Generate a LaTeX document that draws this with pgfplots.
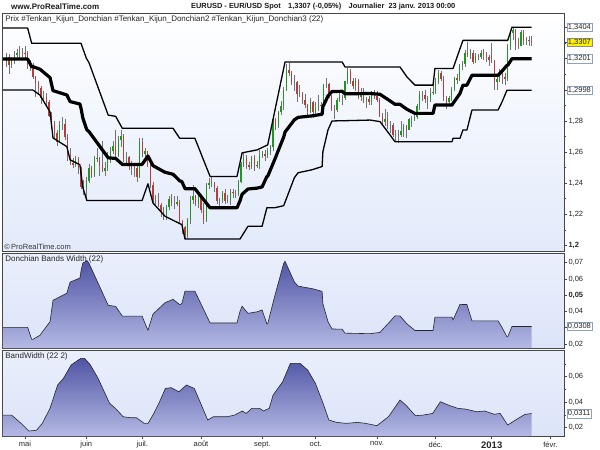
\documentclass[border=0pt]{standalone}
\usepackage{pgfplots}
\pgfplotsset{compat=1.18}
\usepackage{pgfplotstable}
\usepackage{fontspec}
\setmainfont{Liberation Sans}

\definecolor{upc}{RGB}{30,150,30}
\definecolor{dnc}{RGB}{185,60,60}
\definecolor{wick}{RGB}{115,115,115}
\definecolor{bgbot}{RGB}{226,234,250}
\definecolor{pbgtop}{RGB}{234,239,252}
\definecolor{pbgbot}{RGB}{220,228,248}
\definecolor{areatop}{RGB}{80,85,165}
\definecolor{areabot}{RGB}{180,185,228}
\definecolor{boxc}{RGB}{140,160,195}
\definecolor{framec}{RGB}{70,70,70}

\pgfplotstableread{
i o h l c
-7 1.3180 1.3240 1.3150 1.3215
-6 1.3215 1.3230 1.3105 1.3160
-5 1.3160 1.3210 1.3140 1.3195
-4 1.3195 1.3250 1.3170 1.3225
-3 1.3225 1.3265 1.3200 1.3240
-2 1.3240 1.3280 1.3200 1.3245
-1 1.3245 1.3270 1.3210 1.3240
0 1.3240 1.3285 1.3205 1.3235
1 1.3235 1.3250 1.3135 1.3160
2 1.3160 1.3190 1.3125 1.3155
3 1.3155 1.3175 1.3070 1.3080
4 1.3080 1.3090 1.2955 1.3045
5 1.3045 1.3060 1.2975 1.3010
6 1.3010 1.3025 1.2910 1.2945
7 1.2945 1.2995 1.2925 1.2955
8 1.2955 1.2980 1.2900 1.2920
9 1.2920 1.2935 1.2825 1.2835
10 1.2835 1.2855 1.2750 1.2785
11 1.2785 1.2800 1.2690 1.2720
12 1.2720 1.2745 1.2640 1.2665
13 1.2665 1.2800 1.2660 1.2780
14 1.2780 1.2825 1.2740 1.2782
15 1.2782 1.2815 1.2680 1.2700
16 1.2700 1.2715 1.2545 1.2580
17 1.2580 1.2625 1.2515 1.2530
18 1.2530 1.2560 1.2495 1.2515
19 1.2515 1.2575 1.2505 1.2555
20 1.2555 1.2570 1.2460 1.2495
21 1.2495 1.2505 1.2365 1.2375
22 1.2375 1.2420 1.2325 1.2365
23 1.2365 1.2440 1.2288 1.2415
24 1.2415 1.2525 1.2400 1.2500
25 1.2500 1.2510 1.2435 1.2450
26 1.2450 1.2575 1.2440 1.2560
27 1.2560 1.2625 1.2535 1.2562
28 1.2562 1.2570 1.2445 1.2520
29 1.2520 1.2670 1.2470 1.2480
30 1.2480 1.2535 1.2445 1.2500
31 1.2500 1.2600 1.2475 1.2570
32 1.2570 1.2630 1.2530 1.2610
33 1.2610 1.2670 1.2590 1.2640
34 1.2640 1.2745 1.2555 1.2580
35 1.2580 1.2705 1.2570 1.2680
36 1.2680 1.2745 1.2635 1.2705
37 1.2705 1.2715 1.2535 1.2555
38 1.2555 1.2600 1.2520 1.2570
39 1.2570 1.2575 1.2485 1.2510
40 1.2510 1.2540 1.2455 1.2490
41 1.2490 1.2515 1.2440 1.2495
42 1.2495 1.2510 1.2405 1.2440
43 1.2440 1.2690 1.2430 1.2665
44 1.2665 1.2690 1.2570 1.2590
45 1.2590 1.2625 1.2555 1.2605
46 1.2605 1.2610 1.2505 1.2525
47 1.2525 1.2535 1.2370 1.2390
48 1.2390 1.2410 1.2270 1.2290
49 1.2290 1.2325 1.2255 1.2292
50 1.2292 1.2335 1.2245 1.2260
51 1.2260 1.2275 1.2185 1.2215
52 1.2215 1.2245 1.2165 1.2195
53 1.2195 1.2260 1.2165 1.2245
54 1.2245 1.2315 1.2225 1.2295
55 1.2295 1.2330 1.2250 1.2270
56 1.2270 1.2315 1.2235 1.2265
57 1.2265 1.2320 1.2255 1.2280
58 1.2280 1.2290 1.2140 1.2155
59 1.2155 1.2165 1.2070 1.2115
60 1.2115 1.2125 1.2042 1.2065
61 1.2065 1.2175 1.2050 1.2160
62 1.2160 1.2320 1.2140 1.2290
63 1.2290 1.2390 1.2265 1.2315
64 1.2315 1.2325 1.2250 1.2265
65 1.2265 1.2335 1.2240 1.2305
66 1.2305 1.2320 1.2205 1.2230
67 1.2230 1.2275 1.2135 1.2160
68 1.2160 1.2400 1.2150 1.2390
69 1.2390 1.2430 1.2360 1.2400
70 1.2400 1.2443 1.2375 1.2405
71 1.2405 1.2410 1.2345 1.2370
72 1.2370 1.2380 1.2265 1.2285
73 1.2285 1.2305 1.2240 1.2290
74 1.2290 1.2350 1.2270 1.2335
75 1.2335 1.2365 1.2265 1.2285
76 1.2285 1.2325 1.2275 1.2290
77 1.2290 1.2360 1.2260 1.2345
78 1.2345 1.2365 1.2305 1.2335
79 1.2335 1.2355 1.2305 1.2330
80 1.2330 1.2420 1.2315 1.2410
81 1.2410 1.2535 1.2400 1.2525
82 1.2525 1.2595 1.2505 1.2560
83 1.2560 1.2580 1.2490 1.2515
84 1.2515 1.2535 1.2485 1.2505
85 1.2505 1.2575 1.2490 1.2565
86 1.2565 1.2580 1.2475 1.2510
87 1.2510 1.2540 1.2495 1.2515
88 1.2515 1.2614 1.2490 1.2575
89 1.2575 1.2610 1.2560 1.2585
90 1.2585 1.2615 1.2545 1.2575
91 1.2575 1.2625 1.2560 1.2610
92 1.2610 1.2646 1.2580 1.2630
93 1.2630 1.2820 1.2610 1.2815
94 1.2815 1.2820 1.2740 1.2765
95 1.2765 1.2865 1.2755 1.2855
96 1.2855 1.2930 1.2840 1.2895
97 1.2895 1.3020 1.2870 1.3000
98 1.3000 1.3165 1.2990 1.3130
99 1.3130 1.3172 1.3090 1.3110
100 1.3110 1.3120 1.3030 1.3050
101 1.3050 1.3095 1.2995 1.3052
102 1.3052 1.3060 1.2925 1.2975
103 1.2975 1.3030 1.2955 1.2980
104 1.2980 1.2985 1.2910 1.2935
105 1.2935 1.2975 1.2885 1.2905
106 1.2905 1.2910 1.2835 1.2860
107 1.2860 1.2945 1.2850 1.2925
108 1.2925 1.2930 1.2820 1.2860
109 1.2860 1.2925 1.2845 1.2885
110 1.2885 1.2965 1.2865 1.2905
111 1.2905 1.2920 1.2870 1.2895
112 1.2895 1.3040 1.2880 1.3030
113 1.3030 1.3075 1.3010 1.3040
114 1.3040 1.3045 1.2945 1.2960
115 1.2960 1.2970 1.2865 1.2875
116 1.2875 1.2905 1.2810 1.2870
117 1.2870 1.2950 1.2855 1.2935
118 1.2935 1.2980 1.2925 1.2955
119 1.2955 1.2970 1.2905 1.2945
120 1.2945 1.3060 1.2935 1.3055
121 1.3055 1.3140 1.3040 1.3120
122 1.3120 1.3135 1.3040 1.3060
123 1.3060 1.3075 1.3005 1.3025
124 1.3025 1.3075 1.2995 1.3065
125 1.3065 1.3070 1.2940 1.2955
126 1.2955 1.3010 1.2930 1.2970
127 1.2970 1.3015 1.2915 1.2930
128 1.2930 1.2955 1.2885 1.2940
129 1.2940 1.2960 1.2905 1.2920
130 1.2920 1.2990 1.2900 1.2980
131 1.2980 1.3000 1.2940 1.2960
132 1.2960 1.2990 1.2920 1.2935
133 1.2935 1.2945 1.2825 1.2835
134 1.2835 1.2850 1.2780 1.2795
135 1.2795 1.2875 1.2770 1.2815
136 1.2815 1.2860 1.2750 1.2765
137 1.2765 1.2800 1.2720 1.2775
138 1.2775 1.2785 1.2700 1.2710
139 1.2710 1.2740 1.2670 1.2715
140 1.2715 1.2745 1.2661 1.2710
141 1.2710 1.2800 1.2700 1.2735
142 1.2735 1.2780 1.2700 1.2765
143 1.2765 1.2775 1.2690 1.2745
144 1.2745 1.2820 1.2740 1.2810
145 1.2810 1.2835 1.2760 1.2815
146 1.2815 1.2840 1.2800 1.2825
147 1.2825 1.2910 1.2815 1.2895
148 1.2895 1.2990 1.2870 1.2975
149 1.2975 1.2990 1.2930 1.2970
150 1.2970 1.3000 1.2915 1.2940
151 1.2940 1.2960 1.2875 1.2942
152 1.2942 1.3015 1.2920 1.2980
153 1.2980 1.3030 1.2970 1.2985
154 1.2985 1.3075 1.2975 1.3050
155 1.3050 1.3127 1.3040 1.3110
156 1.3110 1.3125 1.3055 1.3070
157 1.3070 1.3090 1.2930 1.2945
158 1.2945 1.2960 1.2875 1.2925
159 1.2925 1.2960 1.2900 1.2945
160 1.2945 1.3020 1.2930 1.3005
161 1.3005 1.3085 1.2990 1.3075
162 1.3075 1.3100 1.3040 1.3065
163 1.3065 1.3165 1.3060 1.3160
164 1.3160 1.3185 1.3130 1.3165
165 1.3165 1.3260 1.3145 1.3240
166 1.3240 1.3308 1.3210 1.3225
167 1.3225 1.3265 1.3200 1.3240
168 1.3240 1.3255 1.3165 1.3180
169 1.3180 1.3235 1.3175 1.3220
170 1.3220 1.3230 1.3195 1.3210
171 1.3210 1.3255 1.3200 1.3235
172 1.3235 1.3265 1.3195 1.3230
173 1.3230 1.3245 1.3180 1.3215
174 1.3215 1.3225 1.3155 1.3190
175 1.3190 1.3300 1.3175 1.3185
176 1.3185 1.3190 1.3000 1.3050
177 1.3050 1.3080 1.2998 1.3070
178 1.3070 1.3135 1.3050 1.3115
179 1.3115 1.3120 1.3035 1.3080
180 1.3080 1.3110 1.3030 1.3070
181 1.3070 1.3295 1.3060 1.3275
182 1.3275 1.3370 1.3260 1.3365
183 1.3365 1.3404 1.3320 1.3385
184 1.3385 1.3390 1.3260 1.3290
185 1.3290 1.3335 1.3265 1.3285
186 1.3285 1.3385 1.3280 1.3375
187 1.3375 1.3385 1.3290 1.3315
188 1.3315 1.3340 1.3290 1.3320
189 1.3320 1.3350 1.3280 1.3315
190 1.3315 1.3345 1.3280 1.3307
}\candles

\pgfplotstableread{
i U L M W
-8.3 1.3398 1.2999 1.31985 0.03023
1 1.3398 1.2999 1.31985 0.03023
2.5 1.3300 1.2999 1.31495 0.02289
3 1.3300 1.2999 1.31495 0.02289
5.6 1.3300 1.2967 1.31335 0.02536
9.4 1.3300 1.2858 1.3079 0.03379
10.5 1.3300 1.2691 1.29955 0.04686
15.7 1.3300 1.2635 1.29675 0.05128
16.9 1.3300 1.2550 1.2925 0.05803
20.6 1.3300 1.2518 1.2909 0.06058
21 1.3300 1.24645 1.28823 0.06486
21.7 1.32664 1.2371 1.28187 0.06985
23 1.3204 1.22991 1.27516 0.07096
23.2 1.3198 1.2288 1.2743 0.07141
24 1.3175 1.2288 1.27315 0.06967
31.2 1.2838 1.2288 1.2563 0.04378
34 1.2830 1.2288 1.2559 0.04316
36.5 1.2753 1.2288 1.25205 0.03714
43.9 1.2753 1.2288 1.25205 0.03714
46.1 1.2753 1.2396 1.25745 0.02839
48 1.2753 1.2272 1.25125 0.03844
52.5 1.2753 1.2187 1.2470 0.04539
55.5 1.2753 1.21613 1.24572 0.04750
58 1.2689 1.21399 1.24145 0.04423
58.8 1.2689 1.2133 1.2411 0.04480
60 1.2689 1.2040 1.23645 0.05249
63.7 1.2689 1.2040 1.23645 0.05249
69.4 1.2443 1.2040 1.22415 0.03292
79.5 1.2443 1.2040 1.22415 0.03292
80.6 1.2531 1.2040 1.22855 0.03997
81.4 1.2595 1.20619 1.23285 0.04324
83.6 1.26025 1.2122 1.23623 0.03887
87 1.2614 1.2122 1.2368 0.03978
88.9 1.26292 1.2122 1.23756 0.04098
90.7 1.2644 1.2242 1.2443 0.03231
91 1.2646 1.2242 1.2444 0.03247
93.7 1.28678 1.2242 1.25549 0.04985
97 1.31389 1.2255 1.2697 0.06961
97.5 1.3180 1.22775 1.27288 0.07090
101 1.3180 1.2435 1.28075 0.05817
102.4 1.3180 1.2467 1.28235 0.05560
107.6 1.3180 1.2486 1.2833 0.05408
111.4 1.3180 1.2507 1.28435 0.05240
111.7 1.3180 1.2603 1.28915 0.04476
113.6 1.3180 1.2742 1.2961 0.03380
115.1 1.3180 1.2800 1.2990 0.02925
118.9 1.3180 1.2802 1.2991 0.02910
120 1.3148 1.2802 1.2975 0.02667
129.4 1.3148 1.2806 1.2977 0.02635
133.1 1.3148 1.2796 1.2972 0.02714
136.9 1.3148 1.2710 1.2929 0.03388
138.7 1.3148 1.2667 1.29075 0.03727
140.6 1.3148 1.2667 1.29075 0.03727
143.2 1.3084 1.2667 1.28755 0.03239
146.2 1.3031 1.2667 1.2849 0.02833
153 1.3031 1.2667 1.2849 0.02833
153.7 1.3138 1.2667 1.29025 0.03650
160.1 1.3138 1.2667 1.29025 0.03650
160.5 1.3138 1.2689 1.29135 0.03477
163.1 1.32652 1.2689 1.29771 0.04440
164.2 1.3319 1.2742 1.30305 0.04428
165.7 1.3319 1.2742 1.30305 0.04428
167.6 1.3319 1.2871 1.3095 0.03421
177.4 1.3319 1.2871 1.3095 0.03421
178.9 1.3319 1.2924 1.31215 0.03010
180.7 1.3319 1.2998 1.31585 0.02440
181 1.3319 1.2998 1.31585 0.02440
182.6 1.3404 1.2998 1.3201 0.03076
190 1.3404 1.2998 1.3201 0.03076
}\don

\pgfplotstableread{
i v
-8.3 0.0299
-5.05 0.0299
-1.44 0.0234
1.44 0.0174
4.33 0.0180
6.49 0.0234
9.38 0.0352
12.26 0.0535
14.42 0.0587
17.31 0.0692
20.91 0.0744
22.35 0.0744
24.52 0.0692
27.40 0.0587
31.73 0.0391
33.89 0.0352
36.78 0.0286
39.66 0.0278
41.82 0.0278
44.71 0.0234
46.15 0.0234
48.31 0.0312
50.48 0.0404
52.64 0.0508
54.80 0.0514
57.69 0.0482
60.57 0.0535
63.46 0.0508
65.62 0.0404
68.50 0.0260
70.67 0.0286
75.71 0.0286
78.60 0.0299
81.48 0.0331
82.92 0.0312
85.09 0.0352
87.97 0.0352
89.41 0.0331
91.58 0.0352
93.02 0.0456
96.63 0.0561
99.51 0.0705
103.12 0.0705
106.00 0.0652
108.88 0.0548
111.77 0.0391
113.93 0.0260
116.82 0.0242
120.42 0.0234
124.75 0.0242
127.63 0.0234
131.96 0.0216
136.29 0.0286
140.61 0.0417
142.78 0.0378
146.38 0.0294
149.27 0.0299
152.87 0.0312
155.76 0.0404
158.64 0.0378
162.25 0.0352
165.13 0.0346
169.46 0.0325
172.34 0.0331
175.95 0.0305
178.11 0.0312
181.00 0.0221
183.88 0.0260
187.48 0.0305
190 0.0311
}\bbw

\pgfplotsset{
  panel/.style={
    scale only axis, width=561.3pt, anchor=north west,
    xmin=-8.36, xmax=202.1,
    axis line style={draw=framec, line width=0.8pt},
    ytick pos=right, yticklabel pos=right,
    xtick=\empty,
    tick align=outside,
    major tick length=2.5pt, minor tick length=1.5pt,
    tick style={draw=framec, line width=0.5pt},
    yticklabel style={font=\fontsize{7.5}{9}\selectfont, text=black!85, xshift=-1.5pt},
    scaled y ticks=false,
    clip=false,
  },
  candlebar/.style={draw=none, mark=none, forget plot,
    error bars/y dir=minus, error bars/y explicit, error bars/error mark=none},
}
\tikzset{
  boxlab/.style={anchor=west, draw=boxc, fill=white, inner xsep=1.2pt, inner ysep=1.2pt,
    font=\fontsize{7.5}{9}\selectfont, line width=0.5pt, xshift=2.5pt, text=black!85},
  ptitle/.style={anchor=north west, inner sep=0pt, font=\fontsize{8}{9}\selectfont, text=black!85},
}

\begin{document}
\begin{tikzpicture}[x=1pt,y=1pt]
\path[fill=white] (0,0) rectangle (600,-450);

\node[anchor=west, inner sep=0pt, font=\bfseries\fontsize{8}{9}\selectfont, text=black!90] at (11,-6.5) {www.ProRealTime.com};
\node[anchor=west, inner sep=0pt, font=\bfseries\fontsize{7.4}{9}\selectfont, text=black!90] at (191,-6.5) {EURUSD - EUR/USD Spot\quad 1,3307 (-0,05\%)\quad Journalier\ \ 23 janv. 2013 00:00};

% ---------- Panel 1: price ----------
\begin{axis}[panel, at={(2.7pt,-13.5pt)}, height=237.5pt,
  ymin=1.19633, ymax=1.34919,
  ytick={1.2,1.22,1.24,1.26,1.28},
  yticklabels={{\textbf{1,2}},{1,22},{1,24},{1,26},{1,28}},
  minor ytick={1.21,1.23,1.25,1.27,1.29,1.31,1.33},
  extra y ticks={1.2998,1.3201,1.3307,1.3404}, extra y tick labels={},
  axis background/.style={top color=white, bottom color=bgbot},
]
\addplot[candlebar, error bars/error bar style={draw=wick, line width=0.5pt}]
  table[x=i, y=h, y error minus expr=\thisrow{h}-\thisrow{l}] {\candles};
\addplot[candlebar, restrict expr to domain={\thisrow{c}-\thisrow{o}}{0:1},
  error bars/error bar style={draw=upc, line width=1.5pt}]
  table[x=i, y=c, y error minus expr=\thisrow{c}-\thisrow{o}] {\candles};
\addplot[candlebar, restrict expr to domain={\thisrow{o}-\thisrow{c}}{0.00001:1},
  error bars/error bar style={draw=dnc, line width=1.5pt}]
  table[x=i, y=o, y error minus expr=\thisrow{o}-\thisrow{c}] {\candles};
\addplot[black, mark=none, line width=1.3pt, line join=round] table[x=i, y=U] {\don};
\addplot[black, mark=none, line width=1.3pt, line join=round] table[x=i, y=L] {\don};
\addplot[black, mark=none, line width=3.2pt, line join=round] table[x=i, y=M] {\don};
\node[ptitle] at (rel axis cs:0,1) [xshift=2.5pt, yshift=-2pt] {Prix \#Tenkan\_Kijun\_Donchian \#Tenkan\_Kijun\_Donchian2 \#Tenkan\_Kijun\_Donchian3 (22)};
\node[anchor=south west, inner sep=0pt, font=\fontsize{7.5}{9}\selectfont, text=black!80] at (rel axis cs:0,0) [xshift=1.5pt, yshift=1.5pt] {\textcopyright\,ProRealTime.com};
\node[boxlab] at (axis cs:202.1,1.3404) {1,3404};
\node[boxlab, fill=yellow, draw=black!45] at (axis cs:202.1,1.3307) {1,3307};
\node[boxlab] at (axis cs:202.1,1.3201) {1,3201};
\node[boxlab] at (axis cs:202.1,1.2998) {1,2998};
\end{axis}

% ---------- Panel 2: Donchian bands width ----------
\begin{axis}[panel, at={(2.7pt,-253pt)}, height=95pt,
  ymin=0.01754, ymax=0.07597,
  ytick={0.02,0.03,0.04,0.05,0.06,0.07},
  yticklabels={{0,02},{},{0,04},{\textbf{0,05}},{0,06},{0,07}},
  axis background/.style={top color=pbgtop, bottom color=pbgbot},
]
\addplot[draw=none, mark=none, top color=areatop, bottom color=areabot] table[x=i, y=W] {\don}
  -- (axis cs:190,0.01754) -- (axis cs:-8.3,0.01754) -- cycle;
\addplot[black!85, mark=none, line width=0.6pt, line join=round] table[x=i, y=W] {\don};
\node[ptitle] at (rel axis cs:0,1) [xshift=2.5pt, yshift=-2.5pt] {Donchian Bands Width (22)};
\node[boxlab] at (axis cs:202.1,0.0308) {0,0308};
\end{axis}

% ---------- Panel 3: Bollinger bandwidth ----------
\begin{axis}[panel, at={(2.7pt,-350pt)}, height=86pt,
  ymin=0.01349, ymax=0.08094,
  ytick={0.02,0.04,0.06},
  yticklabels={{0,02},{0,04},{0,06}},
  minor ytick={0.03,0.05,0.07},
  xtick={0,23,44,66,89,109,132,154,175,197},
  xticklabels={mai,juin,juil.,août,sept.,oct.,nov.,déc.,{\textbf{\fontsize{9.5}{10}\selectfont 2013}},févr.},
  xtick pos=bottom,
  xticklabel style={font=\fontsize{7.5}{9}\selectfont, text=black!85, yshift=0.5pt},
  axis background/.style={top color=pbgtop, bottom color=pbgbot},
]
\addplot[draw=none, mark=none, top color=areatop, bottom color=areabot] table[x=i, y=v] {\bbw}
  -- (axis cs:190,0.01349) -- (axis cs:-8.3,0.01349) -- cycle;
\addplot[black!85, mark=none, line width=0.6pt, line join=round] table[x=i, y=v] {\bbw};
\node[ptitle] at (rel axis cs:0,1) [xshift=2.5pt, yshift=-2.5pt] {BandWidth (22 2)};
\node[boxlab] at (axis cs:202.1,0.0311) {0,0311};
\end{axis}

\pgfresetboundingbox
\path (0,0) rectangle (600,-450);
\end{tikzpicture}
\end{document}
